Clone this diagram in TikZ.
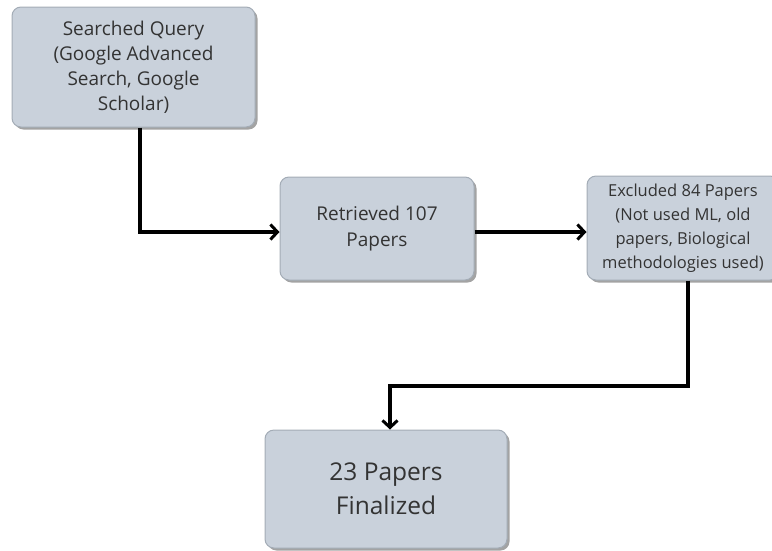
\documentclass[tikz,border=0pt]{standalone}
\usepackage{fontspec}
\setmainfont{Open Sans}
\usetikzlibrary{arrows.meta,shadows}
\definecolor{boxfill}{HTML}{C9D1DB}
\definecolor{boxline}{HTML}{A3ACB6}
\definecolor{txt}{HTML}{333333}
\tikzset{
  box/.style={draw=boxline, line width=1pt, fill=boxfill, rounded corners=9pt,
    drop shadow={shadow xshift=2.5pt, shadow yshift=-2.5pt, fill=black!45, opacity=0.8},
    text=txt, align=center, inner sep=0pt, execute at begin node={\vspace*{5pt}}},
  conn/.style={line width=3.3pt, -{Straight Barb[length=7pt,width=15pt,line width=3pt]}}
}
\begin{document}
\begin{tikzpicture}[x=1pt,y=-1pt]
\useasboundingbox (0,0) rectangle (772,550);
\node[box, minimum width=243pt, minimum height=120pt, font=\fontsize{19}{25}\selectfont] (q) at (133.5,67) {Searched Query\\(Google Advanced\\Search, Google\\Scholar)};
\node[box, minimum width=194pt, minimum height=103pt, font=\fontsize{19}{26.5}\selectfont] (r) at (377,228.5) {Retrieved 107\\Papers};
\node[box, minimum width=192pt, minimum height=104pt, font=\fontsize{16.5}{24}\selectfont] (e) at (683,228) {Excluded 84 Papers\\(Not used ML, old\\papers, Biological\\methodologies used)};
\node[box, minimum width=242pt, minimum height=118pt, font=\fontsize{24.5}{34}\selectfont] (f) at (386,489) {23 Papers\\Finalized};
\coordinate (c1) at (140,232);
\coordinate (c2) at (688,386);
\coordinate (c3) at (390,386);
\draw[conn] (q.south -| c1) -- (c1) -- (r.west |- c1);
\draw[conn] (r.east |- c1) -- (e.west |- c1);
\draw[conn] (e.south -| c2) -- (c2) -- (c3) -- (f.north -| c3);
\end{tikzpicture}
\end{document}
